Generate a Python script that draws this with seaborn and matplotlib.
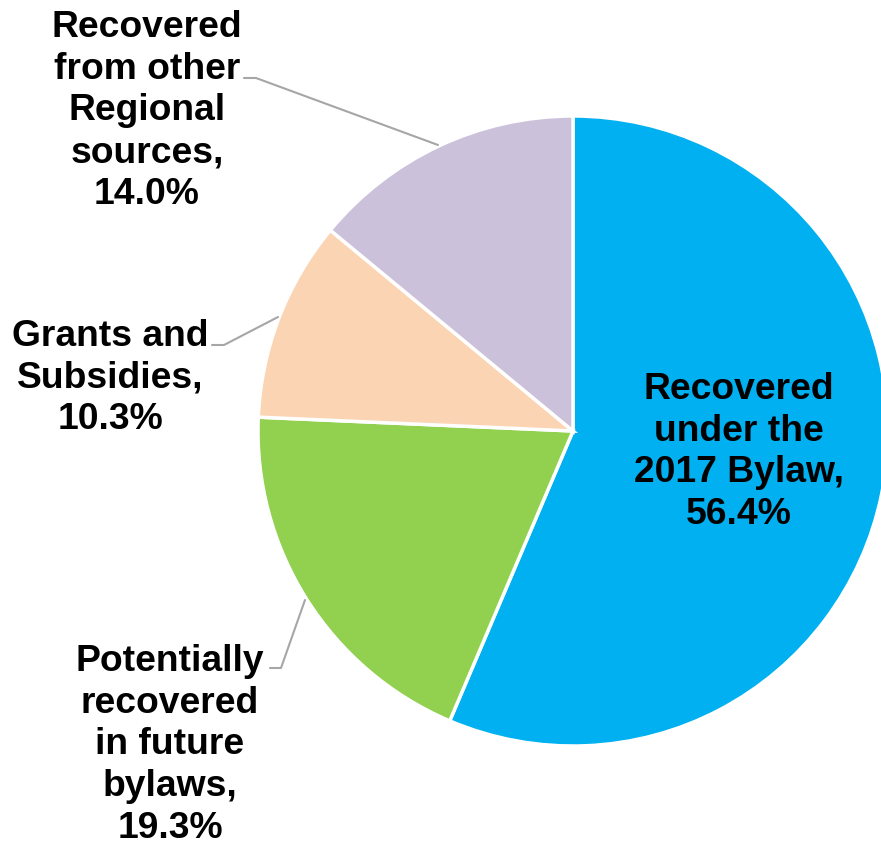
import matplotlib.pyplot as plt
import seaborn as sns

# Donnees du graphique
categories = ['Recovered\nunder the\n2017 Bylaw,', 'Potentially\nrecovered\nin future\nbylaws,',
              'Grants and\nSubsidies,', 'Recovered\nfrom other\nRegional\nsources,']
parts = [56.4, 19.3, 10.3, 14.0]
couleurs = ['#00B0F0', '#92D050', '#FBD4B4', '#CCC1DA']

sns.set_style('white')
plt.rcParams['font.family'] = ['Liberation Sans', 'DejaVu Sans']

fig = plt.figure(figsize=(8.81, 8.45), dpi=100)
ax = fig.add_axes([0, 0, 1, 1])
H = 845

# Camembert (coordonnees en pixels, y vers le haut)
ax.pie(parts, colors=couleurs, startangle=90, counterclock=False,
       center=(573, H - 432), radius=315, frame=True,
       wedgeprops={'edgecolor': 'white', 'linewidth': 2.5})

ax.set_xlim(0, 881)
ax.set_ylim(0, H)
ax.set_aspect('equal')
ax.axis('off')

# Etiquettes
positions = [(739, 452), (170, 745), (110, 378), (147, 111)]
for cat, val, (x, y) in zip(categories, parts, positions):
    ax.text(x, H - y, f"{cat}\n{val:.1f}%", ha='center', va='center',
            multialignment='center', fontsize=26.8, fontweight='bold',
            linespacing=1.25, color='black')

# Lignes de rappel
traits = [
    [(244, 79), (256, 79), (438, 146)],
    [(212, 346), (224, 346), (278, 318)],
    [(270, 669), (281, 669), (305, 601)],
]
for t in traits:
    xs = [p[0] for p in t]
    ys = [H - p[1] for p in t]
    ax.plot(xs, ys, color='#A6A6A6', linewidth=1.5)

fig.savefig('out.png', dpi=100)
